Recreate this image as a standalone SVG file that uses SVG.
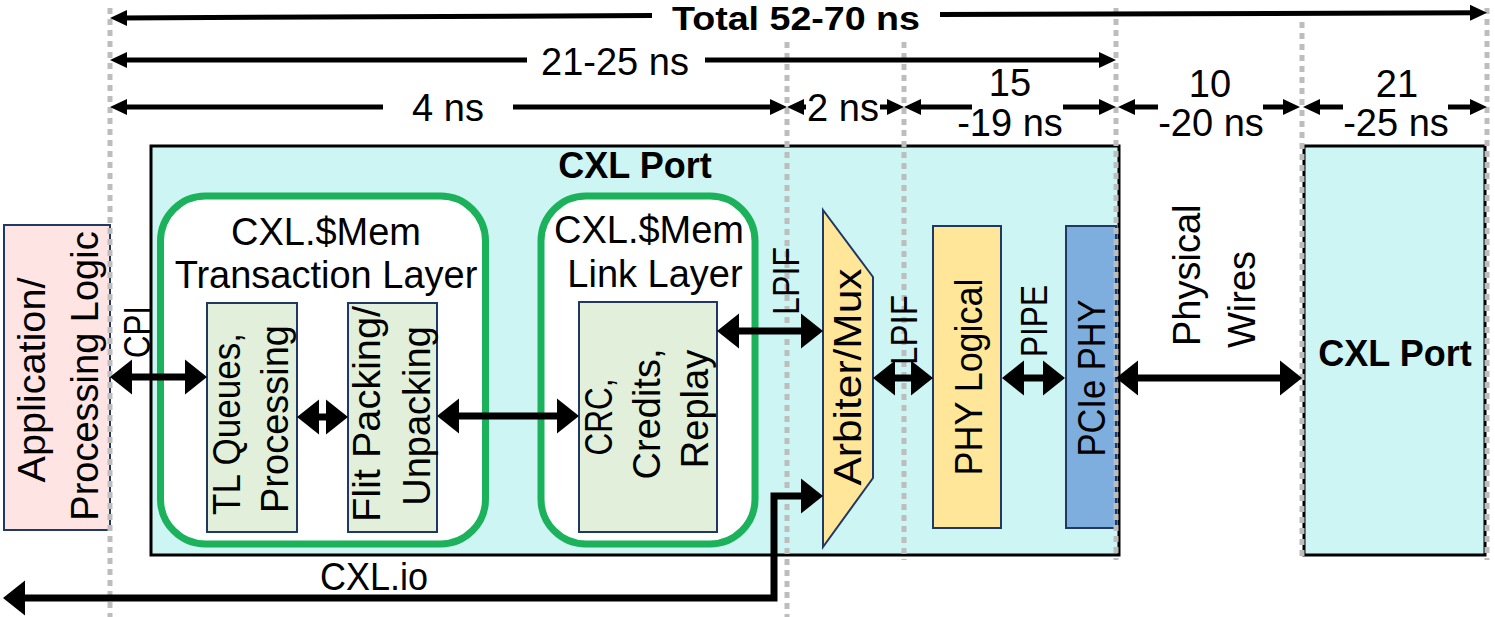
<svg xmlns="http://www.w3.org/2000/svg" width="1495" height="617" viewBox="0 0 1495 617">
<style>
text{font-family:"Liberation Sans",Arial,sans-serif;fill:#000}
.t{font-size:38px}
.b{font-size:36px;font-weight:bold}
.lb{font-size:36px}
.m{text-anchor:middle}
.s{text-anchor:start}
.blk{fill:#E2EFDA;stroke:#1F3864;stroke-width:2}
.yel{fill:#FFE699;stroke:#1F3864;stroke-width:2}
.grn{fill:#fff;stroke:#1CB25B;stroke-width:7}
.port{fill:#CDF5F3;stroke:#000;stroke-width:3}
.dot{stroke:#BDBDBD;stroke-width:5;stroke-dasharray:6 5;fill:none}
.dim{stroke:#000;stroke-width:5;fill:none;marker-end:url(#dh)}
.con{stroke:#000;stroke-width:7;fill:none;stroke-linejoin:miter;marker-start:url(#bh);marker-end:url(#bh)}
</style>
<defs>
<marker id="dh" markerUnits="userSpaceOnUse" markerWidth="18" markerHeight="18" refX="7" refY="8" orient="auto-start-reverse" overflow="visible"><path d="M0,0 L17,8 L0,16 z" fill="#000"/></marker>
<marker id="bh" markerUnits="userSpaceOnUse" markerWidth="24" markerHeight="36" refX="10" refY="17.5" orient="auto-start-reverse" overflow="visible"><path d="M0,0 L22,17.5 L0,35 z" fill="#000"/></marker>
</defs>

<g id="cxl-port-main">
<rect class="port" x="151" y="146" width="968" height="409"/>
<text class="b m" x="635" y="178">CXL Port</text>
</g>

<g id="transaction-layer">
<rect class="grn" x="160.5" y="196" width="325" height="348" rx="45"/>
<text class="t m" x="326" y="245">CXL.$Mem</text>
<text class="t m" x="326" y="288">Transaction Layer</text>
</g>

<g id="link-layer">
<rect class="grn" x="541" y="196" width="214" height="348" rx="45"/>
<text class="t m" x="649" y="243">CXL.$Mem</text>
<text class="t m" x="655" y="287">Link Layer</text>
</g>

<g id="app-logic">
<rect x="4" y="225" width="106" height="305" fill="#FFE4E4" stroke="#1F3864" stroke-width="2"/>
<text class="t m" transform="translate(45,380) rotate(-90)" textLength="205" lengthAdjust="spacingAndGlyphs">Application/</text>
<text class="t m" transform="translate(98,376) rotate(-90)">Processing Logic</text>
</g>

<g id="tl-queues">
<rect class="blk" x="207" y="303" width="90" height="229"/>
<text class="t m" transform="translate(240,424) rotate(-90)" textLength="182" lengthAdjust="spacingAndGlyphs">TL Queues,</text>
<text class="t m" transform="translate(288,419) rotate(-90)">Processing</text>
</g>

<g id="flit-packing">
<rect class="blk" x="348" y="303" width="89" height="229"/>
<text class="t m" transform="translate(380,414) rotate(-90)" textLength="216" lengthAdjust="spacingAndGlyphs">Flit Packing/</text>
<text class="t m" transform="translate(430,416) rotate(-90)">Unpacking</text>
</g>

<g id="crc-credits-replay">
<rect class="blk" x="579" y="302" width="138" height="230"/>
<text class="t m" transform="translate(612,417) rotate(-90)" textLength="77" lengthAdjust="spacingAndGlyphs">CRC,</text>
<text class="t m" transform="translate(660,414) rotate(-90)">Credits,</text>
<text class="t m" transform="translate(708,409) rotate(-90)">Replay</text>
</g>

<g id="arbiter-mux">
<polygon class="yel" points="823,210 873,277 873,478 823,547"/>
<text class="t m" transform="translate(861,377) rotate(-90)" textLength="217" lengthAdjust="spacingAndGlyphs">Arbiter/Mux</text>
</g>

<g id="phy-logical">
<rect class="yel" x="933" y="226" width="68" height="302"/>
<text class="t m" transform="translate(982,377) rotate(-90)" textLength="197" lengthAdjust="spacingAndGlyphs">PHY Logical</text>
</g>

<g id="pcie-phy">
<rect x="1066" y="226" width="50" height="302" fill="#7DAEDD" stroke="#1F3864" stroke-width="2"/>
<text class="t m" transform="translate(1105,378) rotate(-90)" textLength="157" lengthAdjust="spacingAndGlyphs">PCIe PHY</text>
</g>

<g id="cxl-port-remote">
<rect class="port" x="1304" y="146" width="181" height="409"/>
<text class="b m" x="1395" y="366">CXL Port</text>
</g>

<g id="guides">
<path class="dot" d="M110,8 V617 M787,42 V617 M904,42 V560 M1116,8 V560 M1302,22 V560 M1487,8 V560"/>
</g>

<g id="connectors">
<path class="con" d="M122,377 L195,377"/>
<path class="con" d="M309,417 L336,417"/>
<path class="con" d="M449,416 L567,416"/>
<path class="con" d="M729,331 L811,331"/>
<path class="con" d="M885,378 L921,378"/>
<path class="con" d="M1014,378 L1053,378"/>
<path class="con" d="M1128,378 L1290,378"/>
<path class="con" d="M811,496 L774,496 L774,598 L15,598"/>
<text class="lb s" transform="translate(150,358) rotate(-90)" textLength="52" lengthAdjust="spacingAndGlyphs">CPI</text>
<text class="lb s" transform="translate(799,315) rotate(-90)" textLength="68" lengthAdjust="spacingAndGlyphs">LPIF</text>
<text class="lb s" transform="translate(917,365) rotate(-90)" textLength="70" lengthAdjust="spacingAndGlyphs">LPIF</text>
<text class="lb s" transform="translate(1047,357) rotate(-90)" textLength="72" lengthAdjust="spacingAndGlyphs">PIPE</text>
<text class="t s" transform="translate(1200,346) rotate(-90)">Physical</text>
<text class="t s" transform="translate(1255,348) rotate(-90)">Wires</text>
<text class="t m" x="374" y="590" textLength="108" lengthAdjust="spacingAndGlyphs">CXL.io</text>
</g>

<g id="latency-dimensions">
<path class="dim" d="M652,15.5 L120,18"/>
<path class="dim" d="M940,14.5 L1477,12.7"/>
<text class="m" x="796" y="30" style="font-size:34px;font-weight:bold" textLength="248" lengthAdjust="spacingAndGlyphs">Total 52-70 ns</text>
<path class="dim" d="M527,60 L120,60"/>
<path class="dim" d="M705,60 L1106,60"/>
<text class="t m" x="615" y="75">21-25 ns</text>
<path class="dim" d="M383,107 L120,107"/>
<path class="dim" d="M513,107 L777,107"/>
<text class="t m" x="448" y="121">4 ns</text>
<path class="dim" d="M806,107 L797,107"/>
<path class="dim" d="M880,107 L894,107"/>
<text class="t m" x="843" y="121">2 ns</text>
<path class="dim" d="M972,107 L914,107"/>
<path class="dim" d="M1063,107 L1106,107"/>
<text class="t m" x="1010" y="96">15</text>
<text class="t m" x="1010" y="136">-19 ns</text>
<path class="dim" d="M1158,107 L1128,107"/>
<path class="dim" d="M1263,107 L1290,107"/>
<text class="t m" x="1210" y="97">10</text>
<text class="t m" x="1211" y="136">-20 ns</text>
<path class="dim" d="M1343,107 L1313,107"/>
<path class="dim" d="M1448,107 L1477,107"/>
<text class="t m" x="1397" y="97">21</text>
<text class="t m" x="1396" y="136">-25 ns</text>
</g>
</svg>
